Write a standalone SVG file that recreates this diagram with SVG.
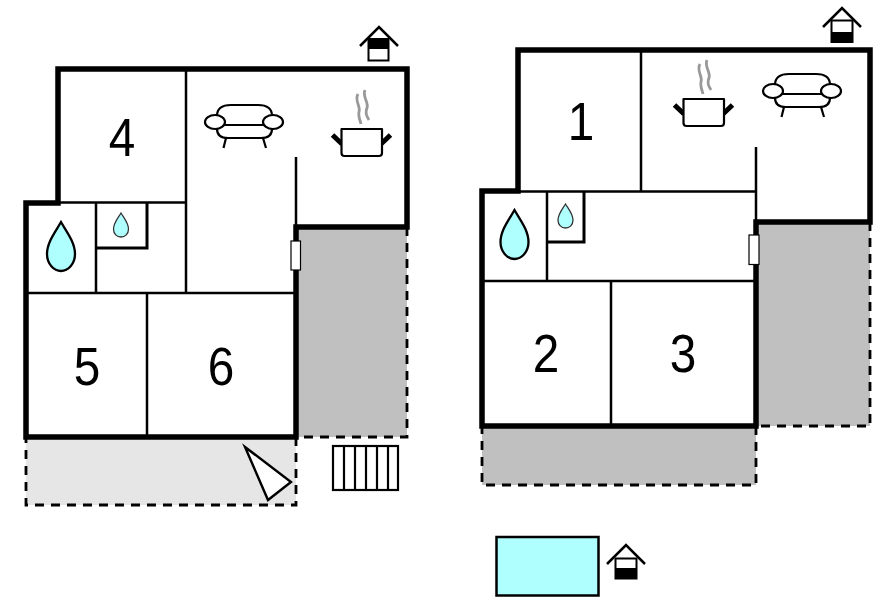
<svg xmlns="http://www.w3.org/2000/svg" width="896" height="597" viewBox="0 0 896 597">
<style>
.outer{fill:none;stroke:#000;stroke-width:5.500;stroke-linejoin:miter}
.wall{fill:none;stroke:#000;stroke-width:2.500}
.wall3{fill:none;stroke:#000;stroke-width:3}
.terr{fill:#c0c0c0;stroke:none}
.light{fill:#e6e6e6;stroke:none}
.dash{fill:none;stroke:#000;stroke-width:2.800;stroke-dasharray:9 7}
.door{fill:#fff;stroke:#000;stroke-width:1.200}
.ic{fill:#fff;stroke:#000;stroke-width:2.200;stroke-linejoin:round}
.icl{fill:none;stroke:#000;stroke-width:2.200}
.steam{fill:none;stroke:#999;stroke-width:2.800}
.hnd{fill:none;stroke:#000;stroke-width:5}
.drop{fill:#b0ffff;stroke:#000;stroke-width:2.300}
.drop2{fill:#b0ffff;stroke:#333;stroke-width:1.300}
.num{font-family:"Liberation Sans",Arial,sans-serif;font-size:53px;fill:#000;text-anchor:middle}
</style>
<defs>
<g id="sofa">
<path class="ic" d="M217 125V116Q217 105 231 105H258Q272 105 272 116V125Z"/>
<path class="ic" d="M217 125H272V129Q272 138 261 138H228Q217 138 217 129Z"/>
<path class="icl" d="M226 138L223.500 148M263 138L266 148"/>
<ellipse class="ic" cx="215" cy="122" rx="10" ry="7"/>
<ellipse class="ic" cx="273" cy="122" rx="10" ry="7"/>
</g>
<g id="pot">
<path class="hnd" d="M332.500 135L342 144M390.500 135L381 144"/>
<path class="ic" d="M341.500 129H382V153Q382 156 379 156H344.500Q341.500 156 341.500 153Z"/>
<path class="steam" d="M358 94C354 101 361 106 359 112C358 116 360 120 361 124M365 90C362 97 369 102 367 108C365 112 367 117 369 120"/>
</g>
<path id="bigdrop" d="M0 0C5 9 14 20 14 32C14 42 7 49 0 49C-7 49 -14 42 -14 32C-14 20 -5 9 0 0Z"/>
<path id="smalldrop" d="M0 0C3 5 7.500 10 7.500 16C7.500 21 4 24 0 24C-4 24 -7.500 21 -7.500 16C-7.500 10 -3 5 0 0Z"/>
</defs>
<rect width="896" height="597" fill="#fff"/>

<g id="left-plan">
<rect class="terr" x="296" y="227" width="111" height="210"/>
<path class="dash" d="M407 227V437H296"/>
<rect class="light" x="26" y="437" width="270" height="68"/>
<path class="dash" d="M296 437V505H26V437"/>
<g id="left-walls">
<path class="wall" d="M186 69V293M58 202.500H186M96 203V293M26 293H296M147 293V437M296 157V227"/>
<path class="wall3" d="M147 203V248H96"/>
<path class="outer" d="M26 437V203H58V69H407V227H296V437Z"/>
</g>
<rect class="door" x="291" y="241" width="9.500" height="29"/>
<polygon id="entrance-arrow" points="245,447 291,482 268,500" fill="#fff" stroke="#000" stroke-width="2.400"/>
<g id="stairs" fill="none" stroke="#000" stroke-width="2.200">
<rect x="333" y="446" width="65" height="44"/>
<path d="M344 446V490M355 446V490M366 446V490M377 446V490M388 446V490"/>
</g>
<text class="num" transform="translate(122 156) scale(.9 1)">4</text>
<text class="num" transform="translate(87 385) scale(.9 1)">5</text>
<text class="num" transform="translate(221 385) scale(.9 1)">6</text>
<use href="#sofa"/>
<use href="#pot"/>
<use href="#bigdrop" class="drop" x="61" y="222"/>
<use href="#smalldrop" class="drop2" x="121" y="213"/>
<g id="house-left">
<rect x="368.500" y="39" width="20" height="21.500" fill="#fff" stroke="#000" stroke-width="2"/>
<rect x="368.500" y="39" width="20" height="10" fill="#000"/>
<path d="M360 46L379 27L398 46" fill="none" stroke="#000" stroke-width="2.500"/>
</g>
</g>

<g id="right-plan">
<rect class="terr" x="756" y="222" width="114" height="204"/>
<path class="dash" d="M870 222V426H756"/>
<rect class="terr" x="482" y="426" width="274" height="59"/>
<path class="dash" d="M756 426V485H482V426"/>
<g id="right-walls">
<path class="wall" d="M641 50V191M518 191.500H756M547 191V281M482 281H756M611 281V426M756 147V222"/>
<path class="wall3" d="M584 191V242H547"/>
<path class="outer" d="M482 426V191H518V50H870V222H756V426Z"/>
</g>
<rect class="door" x="749" y="235" width="10" height="29.500"/>
<text class="num" transform="translate(581 140) scale(.9 1)">1</text>
<text class="num" transform="translate(546 372) scale(.9 1)">2</text>
<text class="num" transform="translate(683 372) scale(.9 1)">3</text>
<use href="#sofa" x="558" y="-31"/>
<use href="#pot" x="342" y="-30"/>
<use href="#bigdrop" class="drop" x="514.500" y="210"/>
<use href="#smalldrop" class="drop2" x="565.500" y="204"/>
<g id="house-right">
<rect x="831.500" y="20.500" width="21" height="21.500" fill="#fff" stroke="#000" stroke-width="2"/>
<rect x="831.500" y="32" width="21" height="10" fill="#000"/>
<path d="M823 27L842 8L861 27" fill="none" stroke="#000" stroke-width="2.500"/>
</g>
</g>

<g id="pool">
<rect x="496.500" y="537" width="102" height="58.500" fill="#b0ffff" stroke="#000" stroke-width="2.500"/>
<g id="house-pool">
<rect x="615.500" y="558.500" width="21" height="20" fill="#fff" stroke="#000" stroke-width="2"/>
<rect x="615.500" y="568" width="21" height="11" fill="#000"/>
<path d="M607 564L626 545L645 564" fill="none" stroke="#000" stroke-width="2.500"/>
</g>
</g>
</svg>
